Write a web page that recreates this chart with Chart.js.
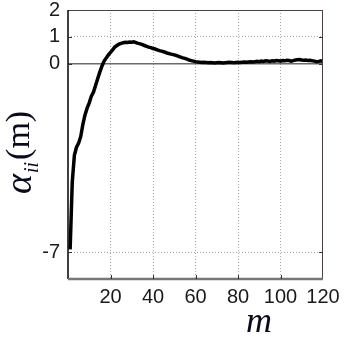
<!DOCTYPE html>
<html><head><meta charset="utf-8">
<script src="https://cdn.jsdelivr.net/npm/chart.js@4/dist/chart.umd.min.js"></script>
<style>html,body{margin:0;padding:0;background:#fff}#wrap{width:345px;height:337px}</style>
</head><body><div id="wrap"><canvas id="c" width="345" height="337"></canvas></div>
<script>
const xTicks = [0, 20, 40, 60, 80, 100, 120];
const yTicks = [-7, 0, 1, 2];
const mValues = [];
for (let i = 1; i <= 120; i++) mValues.push(i);
const alphaValues = [
 -6.9, -4.4, -3.4, -3.1, -2.95, -2.7, -2.25, -1.9, -1.65, -1.45,
 -1.2, -1.05, -0.8, -0.55, -0.3, -0.08, 0.1, 0.22, 0.33, 0.42,
 0.52, 0.62, 0.68, 0.73, 0.76, 0.78, 0.8, 0.79, 0.81, 0.8,
 0.82, 0.79, 0.76, 0.74, 0.71, 0.68, 0.65, 0.62, 0.6, 0.57,
 0.55, 0.52, 0.49, 0.47, 0.45, 0.42, 0.39, 0.37, 0.35, 0.33,
 0.31, 0.28, 0.25, 0.22, 0.2, 0.17, 0.14, 0.12, 0.1, 0.08,
 0.07, 0.06, 0.05, 0.06, 0.05, 0.04, 0.05, 0.04, 0.03, 0.04,
 0.05, 0.04, 0.03, 0.04, 0.05, 0.06, 0.05, 0.04, 0.05, 0.06,
 0.05, 0.06, 0.07, 0.06, 0.07, 0.08, 0.07, 0.08, 0.09, 0.08,
 0.1, 0.09, 0.11, 0.1, 0.09, 0.11, 0.1, 0.12, 0.11, 0.1,
 0.12, 0.11, 0.13, 0.12, 0.1, 0.12, 0.14, 0.15, 0.16, 0.14,
 0.13, 0.14, 0.12, 0.13, 0.11, 0.1, 0.08, 0.09, 0.11, 0.08
];

const framePlugin = {
  id: 'frame',
  beforeDatasetsDraw(chart) {
    const {ctx, chartArea: a, scales: {x, y}} = chart;
    ctx.save();
    const y0 = y.getPixelForValue(0);
    ctx.strokeStyle = '#6a6a6a'; ctx.lineWidth = 1.5;
    ctx.beginPath(); ctx.moveTo(a.left, y0); ctx.lineTo(a.right, y0); ctx.stroke();
    ctx.restore();
  },
  afterDatasetsDraw(chart) {
    const {ctx, chartArea: a, scales: {x, y}} = chart;
    ctx.save();
    ctx.strokeStyle = '#4a4040'; ctx.lineWidth = 1;
    ctx.beginPath(); ctx.moveTo(a.left, a.top + 0.5); ctx.lineTo(a.right, a.top + 0.5); ctx.stroke();
    ctx.beginPath(); ctx.moveTo(a.right - 0.5, a.top); ctx.lineTo(a.right - 0.5, a.bottom); ctx.stroke();
    ctx.strokeStyle = '#000'; ctx.lineWidth = 1.5;
    ctx.beginPath(); ctx.moveTo(a.left, a.top); ctx.lineTo(a.left, a.bottom); ctx.stroke();
    ctx.strokeStyle = '#777'; ctx.lineWidth = 2.5;
    ctx.beginPath(); ctx.moveTo(a.left, a.bottom); ctx.lineTo(a.right, a.bottom); ctx.stroke();
    ctx.strokeStyle = '#333'; ctx.lineWidth = 1;
    xTicks.forEach(v => {
      if (v === 0 || v === 120) return;
      const px = Math.round(x.getPixelForValue(v)) + 0.5;
      ctx.beginPath(); ctx.moveTo(px, a.bottom); ctx.lineTo(px, a.bottom - 4); ctx.stroke();
    });
    yTicks.forEach(v => {
      if (v === 2) return;
      const py = Math.round(y.getPixelForValue(v)) + 0.5;
      ctx.beginPath(); ctx.moveTo(a.left, py); ctx.lineTo(a.left + 4, py); ctx.stroke();
      ctx.beginPath(); ctx.moveTo(a.right, py); ctx.lineTo(a.right - 4, py); ctx.stroke();
    });
    ctx.restore();
  },
  afterDraw(chart) {
    const ctx = chart.ctx;
    ctx.save();
    ctx.translate(31, 194);
    ctx.rotate(-Math.PI / 2);
    ctx.fillStyle = '#0a0a1a';
    ctx.textBaseline = 'alphabetic';
    ctx.textAlign = 'left';
    ctx.font = 'italic 38px "Liberation Serif"';
    ctx.fillText('α', 0, 0);
    let w = ctx.measureText('α').width;
    ctx.font = 'italic 20px "Liberation Serif"';
    ctx.fillText('ii', w + 1, 7);
    w += ctx.measureText('ii').width + 3;
    ctx.font = '34px "Liberation Serif"';
    ctx.fillText('(m)', w, -2);
    ctx.restore();
    ctx.save();
    ctx.fillStyle = '#0a0a1a';
    ctx.font = 'italic 36px "Liberation Serif"';
    ctx.textAlign = 'center';
    ctx.textBaseline = 'alphabetic';
    ctx.fillText('m', 259, 332);
    ctx.restore();
  }
};

new Chart(document.getElementById('c'), {
  type: 'line',
  data: {
    datasets: [{
      data: mValues.map((m, i) => ({x: m, y: alphaValues[i]})),
      borderColor: '#000',
      borderWidth: 3.5,
      pointRadius: 0,
      tension: 0,
      fill: false
    }]
  },
  options: {
    responsive: false,
    animation: false,
    devicePixelRatio: 1,
    layout: {padding: {top: 10, right: 22, left: 0, bottom: 0}},
    plugins: {legend: {display: false}, tooltip: {enabled: false}},
    scales: {
      x: {
        type: 'linear', min: 0, max: 120,
        afterBuildTicks: s => { s.ticks = xTicks.map(v => ({value: v})); },
        afterFit: s => { s.height = 58; s.paddingLeft = 0; s.paddingRight = 0; },
        ticks: {
          autoSkip: false, maxRotation: 0, padding: 6,
          color: '#1a1a1a',
          font: {family: '"Liberation Sans", Arial', size: 20},
          callback: v => (v === 0 ? '' : String(v))
        },
        grid: {
          drawTicks: false,
          color: c => (c.tick && (c.tick.value === 0 || c.tick.value === 120)) ? 'rgba(0,0,0,0)' : '#a8a8a8',
          lineWidth: 1
        },
        border: {display: false, dash: [1, 2]}
      },
      y: {
        type: 'linear', min: -8, max: 2,
        afterBuildTicks: s => { s.ticks = yTicks.map(v => ({value: v})); },
        afterFit: s => { s.width = 68; s.paddingTop = 0; s.paddingBottom = 0; },
        ticks: {
          autoSkip: false, padding: 8,
          color: '#1a1a1a',
          font: {family: '"Liberation Sans", Arial', size: 20}
        },
        grid: {
          drawTicks: false,
          color: c => (c.tick && (c.tick.value === 0 || c.tick.value === 2)) ? 'rgba(0,0,0,0)' : '#a8a8a8',
          lineWidth: 1
        },
        border: {display: false, dash: [1, 2]}
      }
    }
  },
  plugins: [framePlugin]
});
</script>
</body></html>
